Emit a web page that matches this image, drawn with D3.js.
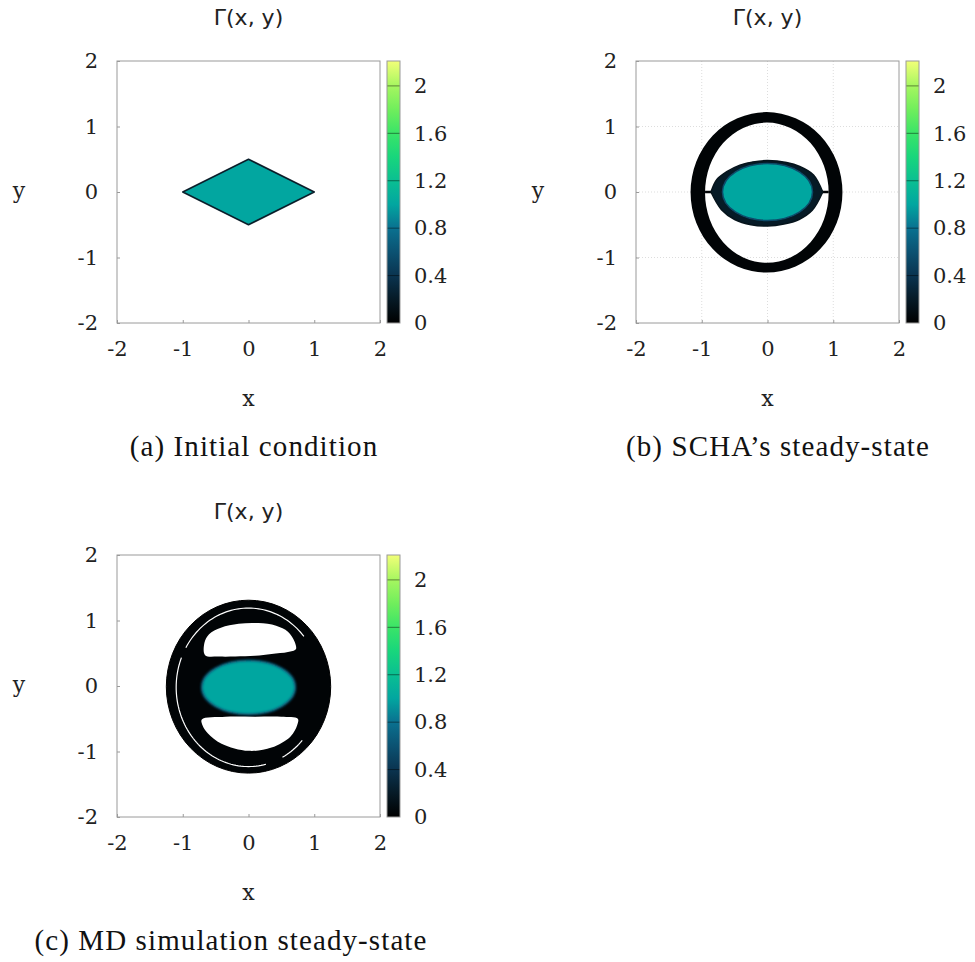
<!DOCTYPE html>
<html>
<head>
<meta charset="utf-8">
<script src="https://cdn.jsdelivr.net/npm/d3@7"></script>
<style>
  body { margin: 0; background: #fff; }
</style>
</head>
<body>
<div id="chart"></div>
<script>
// colour map of Gamma
var gammaStops  = [0, 0.2, 0.4, 0.6, 0.8, 1.0, 1.2, 1.4, 1.6, 1.8, 2.0, 2.21];
var gammaColors = ['#000000', '#061a26', '#0a3450', '#0b5272', '#0a7190', '#02a6a0',
                   '#0abf92', '#18d67c', '#3ae468', '#70ee5c', '#a6f660', '#f2ff78'];
var axisTicks = [-2, -1, 0, 1, 2];
var barTicks = [0, 0.4, 0.8, 1.2, 1.6, 2];
var titles = ['\u0393(x, y)', '\u0393(x, y)', '\u0393(x, y)'];
var captions = ['(a) Initial condition', '(b) SCHA\u2019s steady-state', '(c) MD simulation steady-state'];

// (a) initial condition: a rhombus of constant Gamma
var diamondA = [[-1, 0], [0, 0.5], [1, 0], [0, -0.5]];
var diamondAGamma = 1.0;

// (b) SCHA steady state. ellipses are [cx, cy, rx, ry]
var ringBOuter = [-0.015, -0.005, 1.155, 1.225];
var ringBInner = [-0.01, -0.01, 0.94, 1.07];
var ringBGamma = 0.03;
var lensBTop = [[-0.86, 0], [-0.77, 0.19], [-0.62, 0.31], [-0.42, 0.41], [-0.22, 0.46], [0, 0.48],
                [0.29, 0.45], [0.49, 0.39], [0.70, 0.26], [0.84, 0]];
var lensBBottom = [[0.84, 0], [0.68, -0.28], [0.48, -0.42], [0.25, -0.49], [0, -0.52],
                   [-0.25, -0.5], [-0.5, -0.42], [-0.7, -0.27], [-0.86, 0]];
var lensBGamma = 0.2;
var coreB = [0, 0, 0.685, 0.435];
var coreBGamma = 1.0;
var bridgesB = [[-0.95, -0.84], [0.82, 0.93]];

// (c) MD steady state
var outerC = [0, -0.01, 1.25, 1.32];
var outerCGamma = 0.03;
var gapC = [0, -0.02, 1.10, 1.21];
var gapCArcs = [[40, 150], [158, 285], [298, 318]]; // degrees
var holeCTop = [[-0.66, 0.47], [-0.67, 0.66], [-0.6, 0.79], [-0.42, 0.89], [-0.15, 0.95], [0.15, 0.96],
                [0.42, 0.92], [0.6, 0.83], [0.7, 0.68], [0.72, 0.56], [0.6, 0.52], [0.35, 0.49],
                [0.1, 0.46], [-0.2, 0.45], [-0.45, 0.45]];
var holeCBottom = [[-0.71, -0.51], [-0.35, -0.47], [0.1, -0.47], [0.5, -0.47], [0.75, -0.5],
                   [0.74, -0.6], [0.64, -0.77], [0.35, -0.94], [0, -0.99], [-0.41, -0.88],
                   [-0.62, -0.72], [-0.70, -0.6]];
var coreC = [0, -0.02, 0.71, 0.41];
var coreCGamma = 1.0;

var width = 975, height = 962;
var plotW = 263, plotH = 262;
var panels = [
  {left: 117, top: 61, capX: 254, capY: 456},
  {left: 636, top: 61, capX: 778, capY: 456},
  {left: 117, top: 555, capX: 231, capY: 950}
];

var color = d3.scaleLinear().domain(gammaStops).range(gammaColors).clamp(true);
var x = d3.scaleLinear().domain([-2, 2]).range([0, plotW]);
var y = d3.scaleLinear().domain([-2, 2]).range([plotH, 0]);
var cb = d3.scaleLinear().domain([0, 2.21]).range([plotH, 0]);

var svg = d3.select('#chart').append('svg')
  .attr('width', width)
  .attr('height', height);

var defs = svg.append('defs');
var grad = defs.append('linearGradient')
  .attr('id', 'cbar')
  .attr('x1', 0).attr('y1', 1).attr('x2', 0).attr('y2', 0);
grad.selectAll('stop')
  .data(gammaStops)
  .enter().append('stop')
  .attr('offset', function(d) { return d / 2.21; })
  .attr('stop-color', function(d, i) { return gammaColors[i]; });

defs.append('filter').attr('id', 'soft')
  .append('feGaussianBlur').attr('stdDeviation', 0.5);
defs.append('filter').attr('id', 'softer')
  .append('feGaussianBlur').attr('stdDeviation', 0.9);

defs.append('clipPath').attr('id', 'plotclip')
  .append('rect').attr('width', plotW).attr('height', plotH);

function ellipsePath(e) {
  var cx = x(e[0]), cy = y(e[1]), rx = x(e[2]) - x(0), ry = y(0) - y(e[3]);
  return 'M' + (cx - rx) + ',' + cy +
    'A' + rx + ',' + ry + ' 0 1,0 ' + (cx + rx) + ',' + cy +
    'A' + rx + ',' + ry + ' 0 1,0 ' + (cx - rx) + ',' + cy + 'Z';
}

function drawEllipse(g, e) {
  return g.append('ellipse')
    .attr('cx', x(e[0]))
    .attr('cy', y(e[1]))
    .attr('rx', x(e[2]) - x(0))
    .attr('ry', y(0) - y(e[3]));
}

var curve = d3.line()
  .x(function(d) { return x(d[0]); })
  .y(function(d) { return y(d[1]); });

panels.forEach(function(p, i) {
  var g = svg.append('g').attr('transform', 'translate(' + p.left + ',' + p.top + ')');

  // title
  g.append('text')
    .attr('x', plotW / 2)
    .attr('y', -36)
    .attr('text-anchor', 'middle')
    .style('font-family', 'DejaVu Sans')
    .style('font-size', '22px')
    .style('fill', '#222')
    .text(titles[i]);

  // light grid only shows in panel (b)
  if (i === 1) {
    g.selectAll('.gx')
      .data(axisTicks.slice(1, -1))
      .enter().append('line')
      .attr('x1', function(d) { return x(d); })
      .attr('x2', function(d) { return x(d); })
      .attr('y1', 0).attr('y2', plotH)
      .style('stroke', '#ddd').style('stroke-dasharray', '1,2');
    g.selectAll('.gy')
      .data(axisTicks.slice(1, -1))
      .enter().append('line')
      .attr('y1', function(d) { return y(d); })
      .attr('y2', function(d) { return y(d); })
      .attr('x1', 0).attr('x2', plotW)
      .style('stroke', '#ddd').style('stroke-dasharray', '1,2');
  }

  var field = g.append('g').attr('clip-path', 'url(#plotclip)');

  if (i === 0) {
    field.append('path')
      .attr('d', curve(diamondA) + 'Z')
      .style('fill', color(diamondAGamma))
      .style('stroke', '#0b1e2a')
      .style('stroke-width', 1.6)
      .style('stroke-linejoin', 'round');
  }

  if (i === 1) {
    field.append('path')
      .attr('d', ellipsePath(ringBOuter) + ellipsePath(ringBInner))
      .attr('fill-rule', 'evenodd')
      .style('fill', color(ringBGamma));
    field.selectAll('.bridge')
      .data(bridgesB)
      .enter().append('line')
      .attr('x1', function(d) { return x(d[0]); })
      .attr('x2', function(d) { return x(d[1]); })
      .attr('y1', y(0)).attr('y2', y(0))
      .style('stroke', color(ringBGamma))
      .style('stroke-width', 2.5);
    var lensLine = d3.line()
      .x(function(d) { return x(d[0]); })
      .y(function(d) { return y(d[1]); })
      .curve(d3.curveCatmullRom);
    field.append('path')
      .attr('d', lensLine(lensBTop) + 'L' + lensLine(lensBBottom).slice(1) + 'Z')
      .style('fill', color(lensBGamma))
      .style('stroke', '#06141c')
      .style('stroke-width', 1.5);
    drawEllipse(field, coreB)
      .style('fill', color(coreBGamma))
      .style('stroke', color(0.55))
      .style('stroke-width', 1.5)
      .attr('filter', 'url(#soft)');
  }

  if (i === 2) {
    drawEllipse(field, outerC)
      .style('fill', color(outerCGamma))
      .style('stroke', '#000')
      .style('stroke-width', 1);
    var ex = x(gapC[2]) - x(0), ey = y(0) - y(gapC[3]);
    gapCArcs.forEach(function(a) {
      var pts = d3.range(a[0], a[1] + 1, 2).map(function(t) {
        var r = t * Math.PI / 180;
        return [x(gapC[0]) + ex * Math.cos(r), y(gapC[1]) - ey * Math.sin(r)];
      });
      field.append('path')
        .attr('d', d3.line()(pts))
        .style('fill', 'none')
        .style('stroke', '#fff')
        .style('stroke-width', 1.2);
    });
    var holeLine = d3.line()
      .x(function(d) { return x(d[0]); })
      .y(function(d) { return y(d[1]); })
      .curve(d3.curveCatmullRomClosed);
    field.selectAll('.hole')
      .data([holeCTop, holeCBottom])
      .enter().append('path')
      .attr('d', holeLine)
      .style('fill', '#fff');
    drawEllipse(field, coreC)
      .style('fill', color(coreCGamma))
      .style('stroke', color(0.7))
      .style('stroke-width', 2)
      .attr('filter', 'url(#softer)');
  }

  // frame
  g.append('rect')
    .attr('width', plotW)
    .attr('height', plotH)
    .style('fill', 'none')
    .style('stroke', '#9a9a9a');

  var fmt = function(d) { return String(d); };
  var ax = g.append('g')
    .attr('transform', 'translate(0,' + plotH + ')')
    .call(d3.axisBottom(x).tickValues(axisTicks).tickSize(-3).tickPadding(18).tickFormat(fmt));
  var ay = g.append('g')
    .call(d3.axisLeft(y).tickValues(axisTicks).tickSize(-3).tickPadding(19).tickFormat(fmt));
  [ax, ay].forEach(function(a) {
    a.select('.domain').remove();
    a.selectAll('line').style('stroke', '#9a9a9a');
    a.selectAll('text')
      .style('font-family', 'DejaVu Serif')
      .style('font-size', '21px')
      .style('fill', '#222');
  });

  g.append('text')
    .attr('x', plotW / 2)
    .attr('y', plotH + 83)
    .attr('text-anchor', 'middle')
    .style('font-family', 'DejaVu Serif')
    .style('font-size', '22px')
    .style('fill', '#222')
    .text('x');
  g.append('text')
    .attr('x', -98)
    .attr('y', y(0) + 6)
    .attr('text-anchor', 'middle')
    .style('font-family', 'DejaVu Serif')
    .style('font-size', '22px')
    .style('fill', '#222')
    .text('y');

  // colour bar
  var bar = g.append('g').attr('transform', 'translate(' + (plotW + 7) + ',0)');
  bar.append('rect')
    .attr('width', 13)
    .attr('height', plotH)
    .style('fill', 'url(#cbar)');
  bar.selectAll('.cbtick')
    .data(barTicks.slice(1))
    .enter().append('line')
    .attr('x1', 0).attr('x2', 13)
    .attr('y1', function(d) { return cb(d); })
    .attr('y2', function(d) { return cb(d); })
    .style('stroke', 'rgba(0,0,0,0.45)');
  bar.append('rect')
    .attr('width', 13)
    .attr('height', plotH)
    .style('fill', 'none')
    .style('stroke', '#9a9a9a');
  var ac = bar.append('g')
    .attr('transform', 'translate(13,0)')
    .call(d3.axisRight(cb).tickValues(barTicks).tickSize(0).tickPadding(14).tickFormat(fmt));
  ac.select('.domain').remove();
  ac.selectAll('text')
    .style('font-family', 'DejaVu Serif')
    .style('font-size', '21px')
    .style('fill', '#222');

  // caption
  svg.append('text')
    .attr('x', p.capX)
    .attr('y', p.capY)
    .attr('text-anchor', 'middle')
    .style('font-family', 'Liberation Serif')
    .style('font-size', '29px')
    .style('letter-spacing', '1.1px')
    .style('fill', '#111')
    .text(captions[i]);
});
</script>
</body>
</html>
